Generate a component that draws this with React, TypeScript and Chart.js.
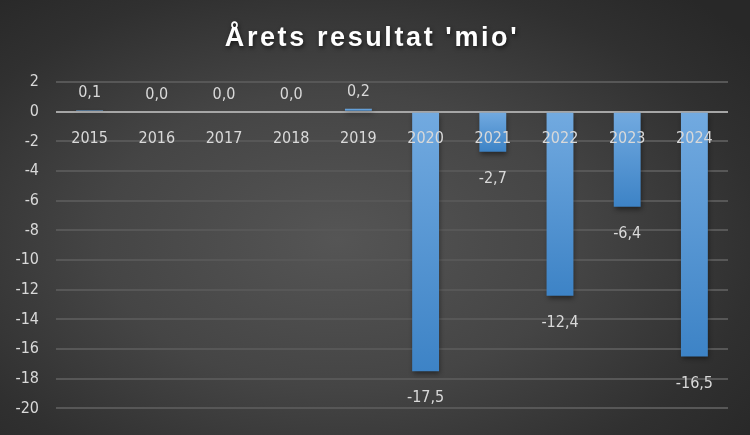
import React, { useEffect, useRef } from "react";
import { Chart, registerables } from "chart.js";

Chart.register(...registerables);

const TITLE = "Årets resultat 'mio'";
const YEARS = ["2015", "2016", "2017", "2018", "2019", "2020", "2021", "2022", "2023", "2024"];
const RESULTS = [0.1, 0.0, 0.0, 0.0, 0.2, -17.5, -2.7, -12.4, -6.4, -16.5];
const Y_MIN = -20;
const Y_MAX = 2;
const Y_STEP = 2;

const FONT = "'Liberation Sans Narrow', 'DejaVu Sans Condensed', 'Roboto Condensed', 'Liberation Sans', sans-serif";

const fmt = (v: number) => v.toFixed(1).replace(".", ",");

const titlePlugin = {
  id: "customTitle",
  afterDraw(chart: any) {
    const { ctx, width } = chart;
    ctx.save();
    ctx.font = `bold 27px 'Liberation Sans', 'DejaVu Sans', sans-serif`;
    try { (ctx as any).letterSpacing = "2.6px"; } catch (e) {}
    ctx.fillStyle = "#ffffff";
    ctx.textAlign = "center";
    ctx.textBaseline = "middle";
    ctx.shadowColor = "rgba(0,0,0,0.6)";
    ctx.shadowBlur = 4;
    ctx.shadowOffsetX = 1;
    ctx.shadowOffsetY = 2;
    ctx.fillText(TITLE, width / 2 - 3, 39);
    ctx.restore();
  },
};

const shadowPlugin = {
  id: "barShadow",
  beforeDatasetsDraw(chart: any) {
    const ctx = chart.ctx;
    ctx.save();
    ctx.shadowColor = "rgba(0,0,0,0.45)";
    ctx.shadowBlur = 5;
    ctx.shadowOffsetX = 1;
    ctx.shadowOffsetY = 3;
  },
  afterDatasetsDraw(chart: any) {
    chart.ctx.restore();
  },
};

const labelPlugin = {
  id: "valueLabels",
  afterDatasetsDraw(chart: any) {
    const ctx = chart.ctx;
    const meta = chart.getDatasetMeta(0);
    const zeroY = chart.scales.y.getPixelForValue(0);
    ctx.save();
    ctx.font = `16px ${FONT}`;
    ctx.fillStyle = "#d9d9d9";
    ctx.textAlign = "center";
    ctx.textBaseline = "middle";
    meta.data.forEach((el: any, i: number) => {
      const v = RESULTS[i];
      const y = v >= 0 ? el.y - 17 : el.y + 27;
      ctx.fillText(fmt(v), el.x, y);
      ctx.fillText(YEARS[i], el.x, zeroY + 27);
    });
    ctx.restore();
  },
};

export default function App() {
  const ref = useRef<HTMLCanvasElement>(null);
  useEffect(() => {
    document.body.style.margin = "0";
    const canvas = ref.current!;
    const chart = new Chart(canvas, {
      type: "bar",
      data: {
        labels: YEARS,
        datasets: [
          {
            data: RESULTS,
            barPercentage: 0.8,
            categoryPercentage: 0.5,
            borderWidth: 0,
            backgroundColor: (c: any) => {
              const ch = c.chart;
              const { chartArea, scales } = ch;
              if (!chartArea || !scales.y || c.type !== "data") return "#5b9bd5";
              const v = c.raw as number;
              const y0 = scales.y.getPixelForValue(0);
              const y1 = scales.y.getPixelForValue(v);
              const top = Math.min(y0, y1);
              const bot = Math.max(y0, y1);
              if (bot - top < 2) return "#6aa6e0";
              const g = ch.ctx.createLinearGradient(0, top, 0, bot);
              g.addColorStop(0, "#72aae0");
              g.addColorStop(1, "#3d83c6");
              return g;
            },
          },
        ],
      },
      options: {
        animation: false,
        responsive: false,
        maintainAspectRatio: false,
        layout: { padding: { top: 82, bottom: 23, left: 0, right: 22 } },
        plugins: {
          legend: { display: false },
          title: { display: false },
          tooltip: { enabled: false },
        },
        scales: {
          x: {
            position: { y: 0 } as any,
            grid: { display: false, drawTicks: false },
            border: { display: false },
            ticks: { display: false },
          },
          y: {
            min: Y_MIN,
            max: Y_MAX,
            border: { display: false },
            grid: {
              drawTicks: false,
              color: (c: any) => (c.tick && c.tick.value === 0 ? "#a6a6a6" : "#575757"),
              lineWidth: 2,
            },
            ticks: {
              stepSize: Y_STEP,
              color: "#d9d9d9",
              font: { family: FONT, size: 16 },
              padding: 17,
              callback: (v: any) => String(v),
            },
            afterFit: (s: any) => {
              s.width = 56;
            },
          },
        },
      },
      plugins: [shadowPlugin, labelPlugin, titlePlugin],
    });
    return () => chart.destroy();
  }, []);

  return (
    <div
      style={{
        position: "fixed",
        left: 0,
        top: 0,
        width: 750,
        height: 435,
        background:
          "radial-gradient(ellipse 70% 75% at 45% 55%, #555555 0%, #454545 45%, #303030 80%, #282828 100%)",
      }}
    >
      <canvas ref={ref} width={750} height={435} style={{ display: "block" }} />
    </div>
  );
}
